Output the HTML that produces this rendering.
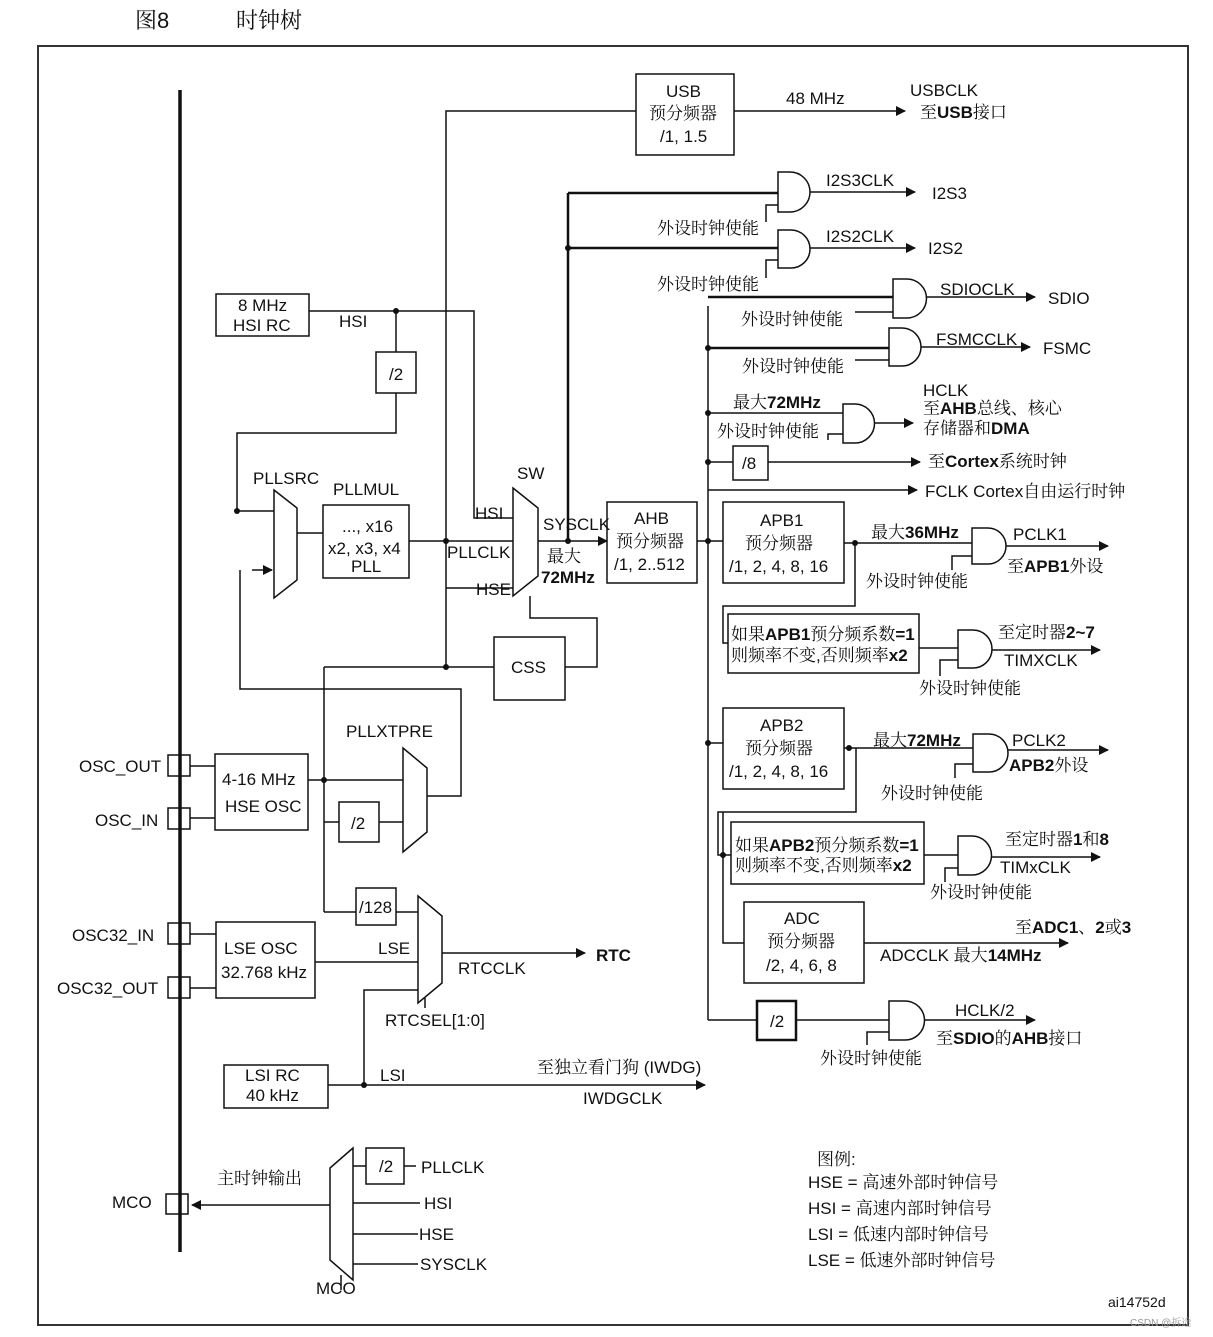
<!DOCTYPE html>
<html><head><meta charset="utf-8"><style>
html,body{margin:0;padding:0;background:#fff;}
svg{display:block;}
text{font-family:"Liberation Sans","Noto Serif CJK SC",serif;font-size:17px;fill:#111;}
.b{font-weight:bold;}
</style></head><body>
<svg width="1213" height="1337" viewBox="0 0 1213 1337" xmlns="http://www.w3.org/2000/svg">
<defs><marker id="a" markerWidth="10" markerHeight="10" refX="9" refY="5" orient="auto" markerUnits="userSpaceOnUse"><path d="M0,0 L10,5 L0,10 z" fill="#111"/></marker></defs>
<text x="135" y="28" style="font-size:22px">图8</text>
<text x="236" y="28" style="font-size:22px">时钟树</text>
<rect x="38" y="46" width="1150" height="1279" fill="none" stroke="#333" stroke-width="2"/>
<g stroke="#111" stroke-width="1.5" fill="none">
<line x1="180" y1="90" x2="180" y2="1252" stroke-width="3.5"/>
<rect x="636" y="74" width="98" height="81"/>
<line x1="734" y1="111" x2="905" y2="111" marker-end="url(#a)"/>
<polyline points="446,667 446,111 636,111"/>
<rect x="216" y="294" width="93" height="42"/>
<polyline points="309,311 474,311 474,518 513,518"/>
<line x1="396" y1="311" x2="396" y2="352"/>
<rect x="376" y="352" width="40" height="41"/>
<polyline points="396,393 396,433 237,433 237,511 274,511"/>
<polygon points="274,490 297,508 297,580 274,598"/>
<line x1="297" y1="533" x2="323" y2="533"/>
<rect x="323" y="505" width="86" height="73"/>
<line x1="409" y1="541" x2="513" y2="541"/>
<line x1="446" y1="588" x2="513" y2="588"/>
<polygon points="513,488 538,508 538,576 513,596"/>
<line x1="538" y1="541" x2="607" y2="541" marker-end="url(#a)"/>
<polyline points="240,570 240,689 461,689 461,796 427,796"/>
<line x1="252" y1="570" x2="272" y2="570" marker-end="url(#a)"/>
<rect x="494" y="637" width="71" height="63"/>
<line x1="324" y1="667" x2="494" y2="667"/>
<polyline points="565,667 597,667 597,618 530,618 530,596"/>
<rect x="215" y="754" width="93" height="76"/>
<rect x="168" y="755" width="22" height="21"/>
<rect x="168" y="808" width="22" height="21"/>
<line x1="190" y1="766" x2="215" y2="766"/>
<line x1="190" y1="818" x2="215" y2="818"/>
<line x1="308" y1="780" x2="403" y2="780"/>
<line x1="324" y1="667" x2="324" y2="912"/>
<rect x="339" y="802" width="40" height="40"/>
<line x1="324" y1="822" x2="339" y2="822"/>
<line x1="379" y1="822" x2="403" y2="822"/>
<polygon points="403,748 427,768 427,832 403,852"/>
<line x1="324" y1="912" x2="356" y2="912"/>
<rect x="356" y="888" width="40" height="37"/>
<line x1="396" y1="912" x2="418" y2="912"/>
<rect x="216" y="922" width="99" height="76"/>
<rect x="168" y="923" width="22" height="21"/>
<rect x="168" y="977" width="22" height="21"/>
<line x1="190" y1="934" x2="216" y2="934"/>
<line x1="190" y1="988" x2="216" y2="988"/>
<line x1="315" y1="962" x2="418" y2="962"/>
<polygon points="418,896 442,916 442,983 418,1003"/>
<line x1="442" y1="953" x2="585" y2="953" marker-end="url(#a)"/>
<polyline points="418,990 364,990 364,1085"/>
<line x1="425" y1="998" x2="425" y2="1008"/>
<rect x="224" y="1065" width="104" height="43"/>
<line x1="328" y1="1085" x2="705" y2="1085" marker-end="url(#a)"/>
<polygon points="353,1148 330,1168 330,1260 353,1280"/>
<line x1="341" y1="1275" x2="341" y2="1290"/>
<line x1="330" y1="1205" x2="192" y2="1205" marker-end="url(#a)"/>
<rect x="166" y="1194" width="22" height="20"/>
<rect x="366" y="1148" width="38" height="36"/>
<line x1="353" y1="1166" x2="366" y2="1166"/>
<line x1="404" y1="1166" x2="416" y2="1166"/>
<line x1="353" y1="1203" x2="420" y2="1203"/>
<line x1="353" y1="1234" x2="418" y2="1234"/>
<line x1="353" y1="1264" x2="418" y2="1264"/>
<rect x="607" y="502" width="90" height="81"/>
<line x1="697" y1="541" x2="723" y2="541"/>
<line x1="708" y1="306" x2="708" y2="1020"/>
<line x1="568" y1="193" x2="568" y2="541" stroke-width="2.5"/>
<line x1="568" y1="193" x2="778" y2="193" stroke-width="2.5"/>
<line x1="568" y1="248" x2="778" y2="248" stroke-width="2.5"/>
<path d="M778,172 h12 a20,20 0 0 1 0,40 h-12 z"/>
<line x1="810" y1="192" x2="915" y2="192" marker-end="url(#a)"/>
<polyline points="766,222 766,205 778,205"/>
<path d="M778,230 h13 a19,19 0 0 1 0,38 h-13 z"/>
<line x1="810" y1="248" x2="915" y2="248" marker-end="url(#a)"/>
<polyline points="766,278 766,260 778,260"/>
<line x1="708" y1="297" x2="893" y2="297" stroke-width="2.5"/>
<path d="M893,279 h14 a19.5,19.5 0 0 1 0,39 h-14 z"/>
<line x1="926" y1="297" x2="1035" y2="297" marker-end="url(#a)"/>
<polyline points="855,312 893,312"/>
<line x1="708" y1="348" x2="889" y2="348" stroke-width="2.5"/>
<path d="M889,328 h13 a19,19 0 0 1 0,38 h-13 z"/>
<line x1="921" y1="347" x2="1030" y2="347" marker-end="url(#a)"/>
<polyline points="855,360 889,360"/>
<line x1="708" y1="413" x2="843" y2="413"/>
<path d="M843,404 h12 a19.5,19.5 0 0 1 0,39 h-12 z"/>
<line x1="874" y1="423" x2="913" y2="423" marker-end="url(#a)"/>
<polyline points="828,440 828,434 843,434"/>
<rect x="733" y="446" width="35" height="34"/>
<line x1="708" y1="462" x2="733" y2="462"/>
<line x1="768" y1="462" x2="920" y2="462" marker-end="url(#a)"/>
<line x1="708" y1="490" x2="917" y2="490" marker-end="url(#a)"/>
<rect x="723" y="502" width="121" height="81"/>
<line x1="844" y1="543" x2="972" y2="543"/>
<path d="M972,528 h16 a18,18 0 0 1 0,36 h-16 z"/>
<line x1="1006" y1="546" x2="1108" y2="546" marker-end="url(#a)"/>
<polyline points="952,570 952,556 972,556"/>
<polyline points="855,543 855,606 723,606 723,643 728,643"/>
<rect x="728" y="614" width="191" height="59"/>
<line x1="919" y1="648" x2="958" y2="648"/>
<path d="M958,630 h15 a19,19 0 0 1 0,38 h-15 z"/>
<line x1="992" y1="650" x2="1100" y2="650" marker-end="url(#a)"/>
<polyline points="940,676 940,660 958,660"/>
<rect x="723" y="708" width="121" height="81"/>
<line x1="708" y1="743" x2="723" y2="743"/>
<line x1="844" y1="748" x2="973" y2="748"/>
<path d="M973,734 h16 a19,19 0 0 1 0,38 h-16 z"/>
<line x1="1008" y1="750" x2="1108" y2="750" marker-end="url(#a)"/>
<polyline points="955,778 955,764 973,764"/>
<polyline points="856,748 856,812 718,812 718,855 731,855"/>
<rect x="731" y="822" width="193" height="62"/>
<line x1="924" y1="855" x2="958" y2="855"/>
<path d="M958,836 h14 a19.5,19.5 0 0 1 0,39 h-14 z"/>
<line x1="992" y1="857" x2="1100" y2="857" marker-end="url(#a)"/>
<polyline points="945,882 945,868 958,868"/>
<polyline points="723,812 723,943 744,943"/>
<rect x="744" y="902" width="120" height="81"/>
<line x1="864" y1="943" x2="1068" y2="943" marker-end="url(#a)"/>
<line x1="708" y1="1020" x2="757" y2="1020"/>
<rect x="757" y="1001" width="39" height="39" stroke-width="2.5"/>
<line x1="796" y1="1020" x2="889" y2="1020"/>
<path d="M889,1001 h16 a19.5,19.5 0 0 1 0,39 h-16 z"/>
<line x1="925" y1="1020" x2="1035" y2="1020" marker-end="url(#a)"/>
<polyline points="867,1045 867,1032 889,1032"/>
</g>
<g fill="#111">
<circle cx="396" cy="311" r="3"/><circle cx="237" cy="511" r="3"/><circle cx="446" cy="541" r="3"/><circle cx="446" cy="667" r="3"/>
<circle cx="324" cy="780" r="3"/><circle cx="364" cy="1085" r="3"/><circle cx="568" cy="541" r="3"/><circle cx="568" cy="248" r="3"/>
<circle cx="708" cy="541" r="3"/><circle cx="708" cy="348" r="3"/><circle cx="708" cy="413" r="3"/><circle cx="708" cy="462" r="3"/><circle cx="708" cy="743" r="3"/>
<circle cx="855" cy="543" r="3"/><circle cx="849" cy="748" r="3"/><circle cx="723" cy="855" r="3"/>
</g>
<text x="666" y="97">USB</text><text x="649" y="119">预分频器</text><text x="660" y="142">/1, 1.5</text>
<text x="786" y="104">48 MHz</text><text x="910" y="96">USBCLK</text><text x="920" y="118">至<tspan class="b">USB</tspan>接口</text>
<text x="238" y="311">8 MHz</text><text x="233" y="331">HSI RC</text><text x="339" y="327">HSI</text><text x="389" y="380">/2</text>
<text x="253" y="484">PLLSRC</text><text x="333" y="495">PLLMUL</text>
<text x="342" y="532">..., x16</text><text x="328" y="554">x2, x3, x4</text><text x="351" y="572">PLL</text>
<text x="517" y="479">SW</text><text x="475" y="519">HSI</text><text x="447" y="558">PLLCLK</text><text x="476" y="595">HSE</text>
<text x="543" y="530">SYSCLK</text><text x="547" y="562">最大</text><text x="541" y="583" class="b">72MHz</text>
<text x="634" y="524">AHB</text><text x="616" y="547">预分频器</text><text x="614" y="570">/1, 2..512</text>
<text x="511" y="673">CSS</text>
<text x="346" y="737">PLLXTPRE</text>
<text x="79" y="772">OSC_OUT</text><text x="95" y="826">OSC_IN</text>
<text x="222" y="785">4-16 MHz</text><text x="225" y="812">HSE OSC</text><text x="351" y="829">/2</text><text x="359" y="913">/128</text>
<text x="72" y="941">OSC32_IN</text><text x="57" y="994">OSC32_OUT</text>
<text x="224" y="954">LSE OSC</text><text x="221" y="978">32.768 kHz</text><text x="378" y="954">LSE</text>
<text x="458" y="974">RTCCLK</text><text x="596" y="961" class="b" style="font-size:17px">RTC</text><text x="385" y="1026">RTCSEL[1:0]</text>
<text x="245" y="1081">LSI RC</text><text x="246" y="1101">40 kHz</text><text x="380" y="1081">LSI</text>
<text x="537" y="1073">至独立看门狗 (IWDG)</text><text x="583" y="1104">IWDGCLK</text>
<text x="217" y="1184">主时钟输出</text><text x="112" y="1208">MCO</text><text x="316" y="1294">MCO</text>
<text x="379" y="1172">/2</text><text x="421" y="1173">PLLCLK</text><text x="424" y="1209">HSI</text><text x="419" y="1240">HSE</text><text x="420" y="1270">SYSCLK</text>
<text x="826" y="186">I2S3CLK</text><text x="932" y="199">I2S3</text><text x="657" y="234">外设时钟使能</text>
<text x="826" y="242">I2S2CLK</text><text x="928" y="254">I2S2</text><text x="657" y="290">外设时钟使能</text>
<text x="940" y="295">SDIOCLK</text><text x="1048" y="304">SDIO</text><text x="741" y="325">外设时钟使能</text>
<text x="936" y="345">FSMCCLK</text><text x="1043" y="354">FSMC</text><text x="742" y="372">外设时钟使能</text>
<text x="733" y="408">最大<tspan class="b">72MHz</tspan></text><text x="717" y="437">外设时钟使能</text>
<text x="923" y="396">HCLK</text><text x="923" y="414">至<tspan class="b">AHB</tspan>总线、核心</text><text x="923" y="434">存储器和<tspan class="b">DMA</tspan></text>
<text x="742" y="469">/8</text><text x="928" y="467">至<tspan class="b">Cortex</tspan>系统时钟</text>
<text x="925" y="497">FCLK Cortex自由运行时钟</text>
<text x="760" y="526">APB1</text><text x="745" y="549">预分频器</text><text x="729" y="572">/1, 2, 4, 8, 16</text>
<text x="871" y="538">最大<tspan class="b">36MHz</tspan></text><text x="1013" y="540">PCLK1</text><text x="1007" y="572">至<tspan class="b">APB1</tspan>外设</text><text x="866" y="587">外设时钟使能</text>
<text x="731" y="640">如果<tspan class="b">APB1</tspan>预分频系数<tspan class="b">=1</tspan></text><text x="731" y="661">则频率不变,否则频率<tspan class="b">x2</tspan></text>
<text x="998" y="638">至定时器<tspan class="b">2~7</tspan></text><text x="1004" y="666">TIMXCLK</text><text x="919" y="694">外设时钟使能</text>
<text x="760" y="731">APB2</text><text x="745" y="754">预分频器</text><text x="729" y="777">/1, 2, 4, 8, 16</text>
<text x="873" y="746">最大<tspan class="b">72MHz</tspan></text><text x="1012" y="746">PCLK2</text><text x="1009" y="771"><tspan class="b">APB2</tspan>外设</text><text x="881" y="799">外设时钟使能</text>
<text x="735" y="851">如果<tspan class="b">APB2</tspan>预分频系数<tspan class="b">=1</tspan></text><text x="735" y="871">则频率不变,否则频率<tspan class="b">x2</tspan></text>
<text x="1005" y="845">至定时器<tspan class="b">1</tspan>和<tspan class="b">8</tspan></text><text x="1000" y="873">TIMxCLK</text><text x="930" y="898">外设时钟使能</text>
<text x="784" y="924">ADC</text><text x="767" y="947">预分频器</text><text x="766" y="971">/2, 4, 6, 8</text>
<text x="1015" y="933">至<tspan class="b">ADC1</tspan>、<tspan class="b">2</tspan>或<tspan class="b">3</tspan></text><text x="880" y="961">ADCCLK 最大<tspan class="b">14MHz</tspan></text>
<text x="770" y="1027">/2</text><text x="955" y="1016">HCLK/2</text><text x="936" y="1044">至<tspan class="b">SDIO</tspan>的<tspan class="b">AHB</tspan>接口</text><text x="820" y="1064">外设时钟使能</text>
<text x="817" y="1165">图例:</text>
<text x="808" y="1188">HSE = 高速外部时钟信号</text><text x="808" y="1214">HSI = 高速内部时钟信号</text>
<text x="808" y="1240">LSI = 低速内部时钟信号</text><text x="808" y="1266">LSE = 低速外部时钟信号</text>
<text x="1108" y="1307" style="font-size:14px">ai14752d</text>
<text x="1130" y="1326" style="font-size:10px;fill:#999">CSDN @拆途</text>
</svg>
</body></html>
